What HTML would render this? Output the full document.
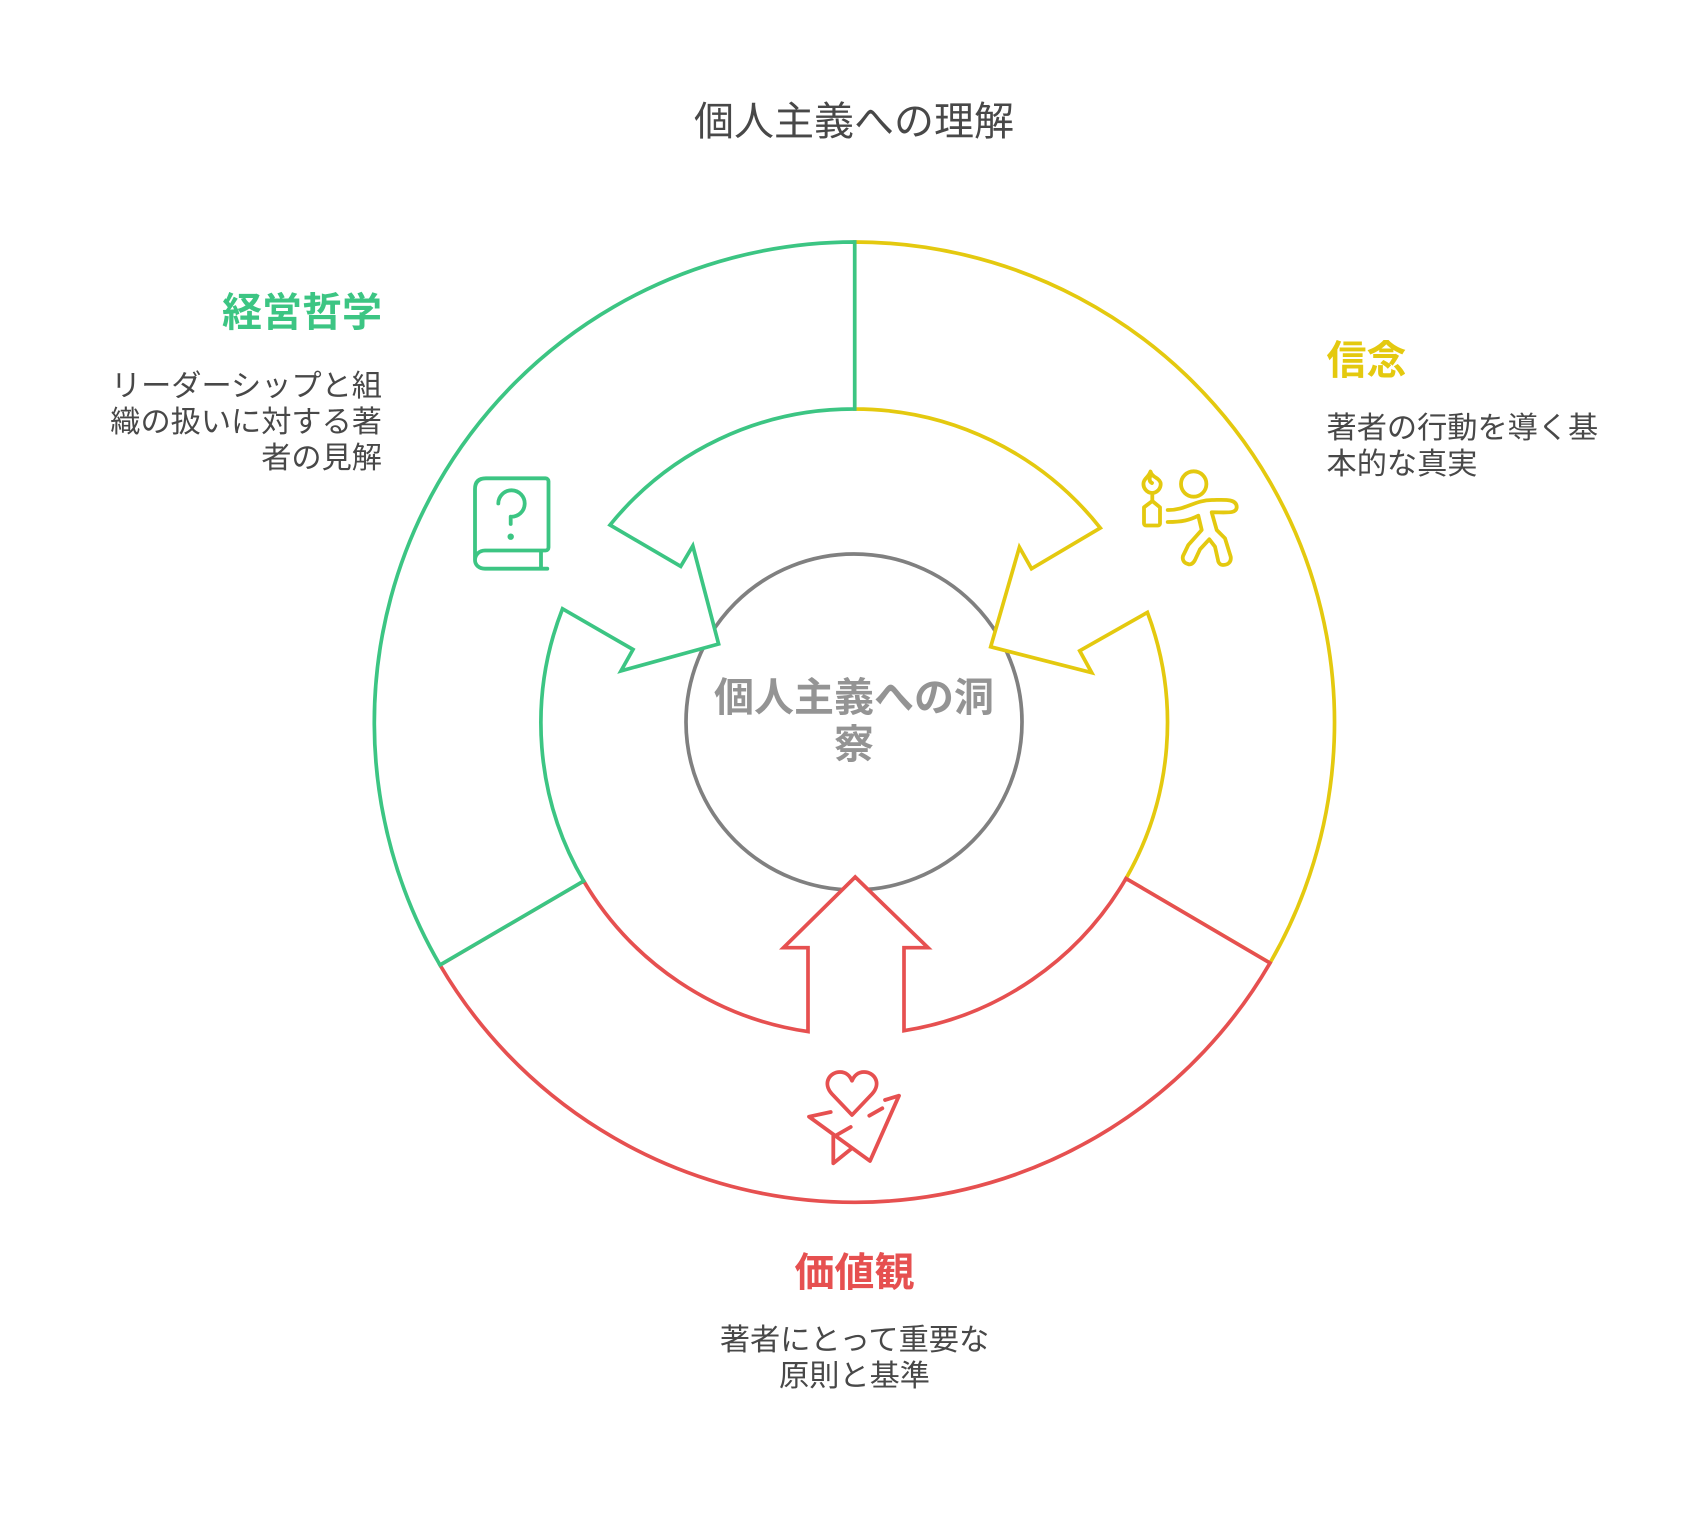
<!DOCTYPE html>
<html lang="ja"><head><meta charset="utf-8"><title>個人主義への理解</title>
<style>
html,body{margin:0;padding:0;background:#fff}
svg{display:block}
text{font-family:"Liberation Sans","Noto Sans CJK JP","WenQuanYi Zen Hei",sans-serif}
.d{font-size:30.2px;fill:#484848}
.h{font-size:40px;font-weight:700}
</style></head><body>
<svg width="1708" height="1516" viewBox="0 0 1708 1516" xmlns="http://www.w3.org/2000/svg">
<rect width="1708" height="1516" fill="#fff"/>
<g fill="none" stroke-width="3.7" stroke-linejoin="miter">
<circle cx="854" cy="722" r="168" stroke="#808080"/>
<path fill="#fff" stroke="#e4c90f" d="M854.7 242 A480.5 480.5 0 0 1 1270 963 L1126 878.5 A313 313 0 0 0 1147.4 612.4 L1079.7 650.8 L1091.7 672.7 L990.7 646.8 L1019.4 547.2 L1031.5 568.7 L1100.3 528 A313 313 0 0 0 854.7 409 Z"/>
<path fill="#fff" stroke="#e65050" d="M440 965 A480.5 480.5 0 0 0 1270 963 L1126 878.5 A313 313 0 0 1 904 1030.7 L904 947.7 L928 947.7 L855.2 877 L783.5 947.7 L808 947.7 L808 1031.6 A313 313 0 0 1 583.7 881 Z"/>
<path fill="#fff" stroke="#3cc583" d="M854.7 242 A480.5 480.5 0 0 0 440 965 L583.7 881 A313 313 0 0 1 562.5 608.8 L633 649.5 L621 670.9 L718.6 644 L692.8 545.9 L680.7 566.4 L610 525 A313 313 0 0 1 854.7 409 Z"/>
</g>
<g fill="none" stroke="#3cc583" stroke-width="3.8" stroke-linecap="round" stroke-linejoin="round">
<path d="M475 560V489Q475 478.3 486 478.3H545.5a3 3 0 0 1 3 3V547.5a3 3 0 0 1-3 3H485C479 550.5 475 555 475 560C475 565 479 568.7 485 568.7H547.3M541 551V568.7"/>
<path d="M498.3 503.5A13.2 13.2 0 1 1 510.7 516.7V524"/>
<circle cx="510.7" cy="536.7" r="2.6" fill="#3cc583" stroke-width="1.2"/>
</g>
<g fill="none" stroke="#e4c90f" stroke-width="3.8" stroke-linecap="round" stroke-linejoin="round">
<circle cx="1193.7" cy="484" r="12.7"/>
<path d="M1152.3 493a9 9 0 0 1-8.6-11c1-4 5-5 6.8-10.5c.8 3 2.4 4.5 5.2 6c2.6 1.6 5 4 5 6.5a9 9 0 0 1-8.4 9M1150 477c-1 3 0 5 2 6M1152.3 493V501"/>
<path d="M1152.3 501L1160 507.3V523.5a2 2 0 0 1-2 2H1146a2 2 0 0 1-2-2V507.3Z"/>
<path d="M1167.7 510C1185 510.5 1195 500 1212 500C1222 500 1236.7 498 1236.7 507C1236.7 514 1227 512.3 1211.7 512.3L1216.7 530L1225 538.3L1230.7 556.7C1231.5 562 1228 565 1223 565C1219 565 1218 561 1218 560L1215 546.7L1209.3 539.3L1200 549.3L1195 560C1193 564 1190 565 1188 564C1184 563 1182 560 1183 556L1188.3 545L1201.7 530L1198.3 515.7C1190 520 1182 522 1167.7 522"/>
</g>
<g fill="none" stroke="#e65050" stroke-width="3.8" stroke-linecap="round" stroke-linejoin="round">
<path d="M852 1115L832 1094C822 1083 830 1072 840 1072C846 1072 850 1076 852 1080.7C854 1076 858 1072 864 1072C874 1072 882 1083 872 1094Z"/>
<path d="M830.7 1112L809 1116.7L870 1161L899 1095.7L885 1100"/>
<path d="M869.3 1115.7L882.3 1108.3M835 1136L850.7 1127M833.3 1136V1163.3L851 1149"/>
</g>
<text x="854" y="135" text-anchor="middle" font-size="40" fill="#484848">個人主義への理解</text>
<text x="382" y="326" text-anchor="end" class="h" fill="#3cc583">経営哲学</text>
<text x="382" y="396" text-anchor="end" class="d">リーダーシップと組</text>
<text x="382" y="432" text-anchor="end" class="d">織の扱いに対する著</text>
<text x="382" y="468" text-anchor="end" class="d">者の見解</text>
<text x="1326.5" y="374" class="h" fill="#e4c90f">信念</text>
<text x="1326.5" y="438" class="d">著者の行動を導く基</text>
<text x="1326.5" y="474" class="d">本的な真実</text>
<text x="854.5" y="1286" text-anchor="middle" class="h" fill="#e65050">価値観</text>
<text x="854.5" y="1350" text-anchor="middle" class="d">著者にとって重要な</text>
<text x="854.5" y="1386" text-anchor="middle" class="d">原則と基準</text>
<text x="854" y="711" text-anchor="middle" class="h" fill="#949494">個人主義への洞</text>
<text x="854" y="758" text-anchor="middle" class="h" fill="#949494">察</text>
</svg>
</body></html>
